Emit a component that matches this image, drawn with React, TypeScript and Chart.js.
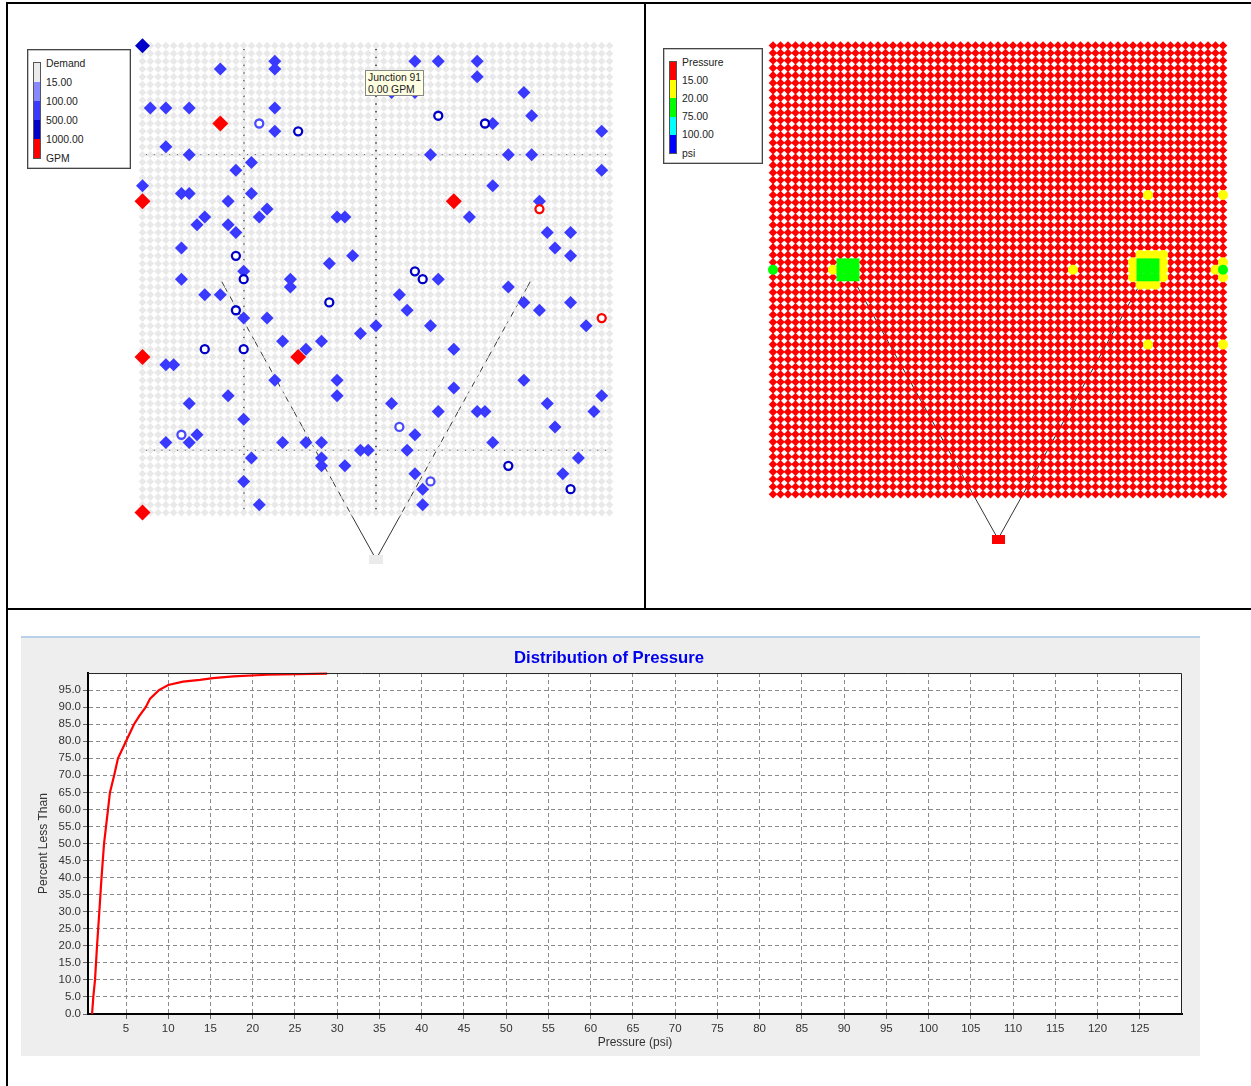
import React, { useEffect, useRef } from "react";
import { Chart, registerables } from "chart.js";

Chart.register(...registerables);

// Lattice of junctions
const gridIndex = [0,1,2,3,4,5,6,7,8,9,10,11,12,13,14,15,16,17,18,19,20,21,22,23,24,25,26,27,28,29,30,31,32,33,34,35,36,37,38,39,40,41,42,43,44,45,46,47,48,49,50,51,52,53,54,55,56,57,58,59,60];

// Demand map: [col,row]
const demandMid: number[][] = [
  [10,3],[17,2],[17,3],[1,8],[3,8],[6,8],[17,8],[17,11],[3,13],[6,14],[14,15],[12,16],[0,18],[5,19],[6,19],[14,19],[11,20],[16,21],[15,22],[8,22],[7,23],[11,23],[12,24],[5,26],[13,29],[5,30],[19,30],[19,31],[24,28],[8,32],[10,32],
  [35,2],[38,2],[43,2],[43,4],[49,6],[32,6],[35,6],[50,9],[45,10],[59,11],[37,14],[47,14],[50,14],[59,16],[45,18],[51,20],[42,22],[25,22],[26,22],[52,24],[55,24],[53,26],[55,27],[27,27],[38,30],[47,31],[33,32],[49,33],[55,33],
  [13,35],[16,35],[18,38],[23,38],[21,39],[3,41],[4,41],[17,43],[11,45],[6,46],[13,48],[7,50],[3,51],[6,51],[18,51],[21,51],[23,51],[23,53],[23,54],[14,53],[13,56],[15,59],
  [34,34],[51,34],[57,36],[28,37],[30,36],[37,36],[40,39],[25,43],[25,45],[40,44],[49,43],[59,45],[32,46],[52,46],[38,47],[43,47],[44,47],[58,47],[53,49],[35,50],[45,51],[28,52],[29,52],[34,52],[26,54],[56,53],[54,55],[35,55],[36,57],[36,59],
];
const demandHigh: number[][] = [[0,0]];
const demandTop: number[][] = [[10,10],[0,20],[40,20],[0,40],[20,40],[0,60]];
const ringsDark: number[][] = [[20,11],[12,27],[13,30],[24,33],[38,9],[44,10],[35,29],[36,30],[12,34],[8,39],[13,39],[47,54],[55,57]];
const ringsLight: number[][] = [[15,10],[5,50],[33,49],[37,56]];
const ringsRed: number[][] = [[51,21],[59,35]];

// Pressure map: [col,row]
const pressureYellow: number[][] = [
  [50,20],[60,20],[50,40],[60,40],[40,30],[8,30],[59,30],[60,29],[60,31],
  [49,28],[50,28],[51,28],[52,28],[48,29],[48,30],[48,31],[52,29],[52,30],[52,31],[49,32],[50,32],[51,32],
];
const pressureGreenBlocks: number[][] = [
  [9,29],[10,29],[11,29],[9,30],[10,30],[11,30],[9,31],[10,31],[11,31],
  [49,29],[50,29],[51,29],[49,30],[50,30],[51,30],[49,31],[50,31],[51,31],
];
const pressureGreenDots: number[][] = [[0,30],[60,30]];

// Pipes and reservoir
const pipeLeft = [[30,66],[10,30]];
const pipeRight = [[30,66],[50,30]];
const reservoir = [[30,66]];
const crossLines = [
  [[0.4,14],[59.6,14]],
  [[0.4,52],[59.6,52]],
  [[13,0.4],[13,59.6]],
  [[30,0.4],[30,59.6]],
];

// Distribution curve
const pressurePsi = [0.98,1.13,1.33,1.57,1.84,2.1,2.4,2.87,3.1,3.6,4.05,5.0,5.95,6.6,7.33,7.85,8.9,10,11.75,13.75,15.3,17.7,21.7,28.8];
const percentLess = [0,5,10,20,30,40,50,60,65,70,75,80,85,87.5,90,92.5,95,96.5,97.5,98,98.5,99,99.5,99.8];
const xTicks = [5,10,15,20,25,30,35,40,45,50,55,60,65,70,75,80,85,90,95,100,105,110,115,120,125];
const yTicks = [0,5,10,15,20,25,30,35,40,45,50,55,60,65,70,75,80,85,90,95];

const demandLegend = ["Demand","15.00","100.00","500.00","1000.00","GPM"];
const demandColors = ["#EBEBEB","#8888FF","#3A3AFF","#0000C8","#FF0000"];
const pressureLegend = ["Pressure","15.00","20.00","75.00","100.00","psi"];
const pressureColors = ["#FF0000","#FFFF00","#00FF00","#00FFFF","#0000FF"];

const FONT = '"Liberation Sans", Arial, sans-serif';

const pts = (a: number[][]) => a.map(([x, y]) => ({ x, y }));
const lattice = () => {
  const out: number[][] = [];
  for (const r of gridIndex) for (const c of gridIndex) out.push([c, r]);
  return out;
};
const tank = (color: string, w: number, h: number) => {
  const c = document.createElement("canvas");
  c.width = w;
  c.height = h;
  const g = c.getContext("2d")!;
  g.fillStyle = color;
  g.fillRect(0, 0, w, h);
  return c;
};
const nodes = (data: number[][], color: string, radius: number, style = "rectRot") => ({
  data: pts(data),
  pointStyle: style,
  pointRadius: radius,
  pointBackgroundColor: color,
  pointBorderWidth: 0,
  clip: false,
});
const rings = (data: number[][], color: string) => ({
  data: pts(data),
  pointStyle: "circle",
  pointRadius: 4,
  pointBackgroundColor: "#FFFFFF",
  pointBorderColor: color,
  pointBorderWidth: 2.3,
  clip: false,
});
const pipe = (data: number[][], width = 1, color = "#333333") => ({
  data: pts(data),
  showLine: true,
  pointRadius: 0,
  borderColor: color,
  borderWidth: width,
  clip: false,
});

const mapOptions = (padding: any) => ({
  responsive: false,
  animation: false,
  events: [],
  layout: { padding },
  plugins: { legend: { display: false }, tooltip: { enabled: false }, title: { display: false } },
  scales: {
    x: { type: "linear", display: false, min: 0, max: 60 },
    y: { type: "linear", display: false, min: 0, max: 68, reverse: true },
  },
});

const plotFrame = {
  id: "plotFrame",
  beforeDraw(c: any) {
    const { ctx, chartArea: a } = c;
    ctx.save();
    ctx.fillStyle = "#FFFFFF";
    ctx.fillRect(a.left, a.top, a.width, a.height);
    ctx.restore();
  },
  afterDatasetsDraw(c: any) {
    const { ctx, chartArea: a } = c;
    ctx.save();
    ctx.strokeStyle = "#222222";
    ctx.lineWidth = 1;
    ctx.beginPath();
    ctx.moveTo(a.left, a.top + 0.5);
    ctx.lineTo(a.right - 0.5, a.top + 0.5);
    ctx.lineTo(a.right - 0.5, a.bottom);
    ctx.stroke();
    ctx.restore();
  },
};

const Legend = ({ left, top, width, height, labels, colors, textX, barX, barW, barTop, step, labelTop }: any) => (
  <div style={{ position: "absolute", left, top, width, height, boxSizing: "border-box", border: "1px solid #444", background: "#fff", boxShadow: "inset 0 0 0 0.5px #888" }}>
    <div style={{ position: "absolute", left: barX, top: barTop, width: barW, border: "1px solid #555", boxSizing: "content-box" }}>
      {colors.map((c: string) => <div key={c} style={{ height: step, background: c }} />)}
    </div>
    {labels.map((t: string, i: number) => (
      <div key={t} style={{ position: "absolute", left: textX, top: labelTop + i * step - 6, height: 12, lineHeight: "12px", font: `10.4px ${FONT}`, color: "#222", whiteSpace: "nowrap" }}>{t}</div>
    ))}
  </div>
);

const Rule = ({ l, t, w, h }: any) => <div style={{ position: "absolute", left: l, top: t, width: w, height: h, background: "#000" }} />;

export default function App() {
  const a = useRef<HTMLCanvasElement>(null);
  const b = useRef<HTMLCanvasElement>(null);
  const c = useRef<HTMLCanvasElement>(null);

  useEffect(() => {
    const demand = new Chart(a.current!, {
      type: "scatter",
      data: {
        datasets: [
          rings(ringsRed, "#FF0000"),
          rings(ringsLight, "#4A4AFF"),
          rings(ringsDark, "#0000C8"),
          nodes(demandTop, "#FF0000", 8),
          nodes(demandHigh, "#0000C8", 7.5),
          nodes(demandMid, "#3A3AFF", 6.5),
          { ...nodes(reservoir, "#EBEBEB", 5), pointStyle: tank("#EBEBEB", 14, 9) },
          nodes(lattice(), "#E9E9E9", 3.9),
          pipe(pipeLeft),
          pipe(pipeRight),
          ...crossLines.map((l) => pipe(l, 1, "#000000")),
        ] as any,
      },
      options: mapOptions({ left: 133.5, right: 33.5, top: 41.7, bottom: 32.2 }) as any,
    });

    const pressure = new Chart(b.current!, {
      type: "scatter",
      data: {
        datasets: [
          nodes(pressureGreenDots, "#00FF00", 5, "circle"),
          nodes(pressureGreenBlocks, "#00FF00", 5.6, "rect"),
          nodes(pressureYellow, "#FFFF00", 5, "circle"),
          { ...nodes(reservoir, "#FF0000", 5), pointStyle: tank("#FF0000", 13, 9) },
          nodes(lattice(), "#FF0000", 4.3),
          pipe(pipeLeft),
          pipe(pipeRight),
          ...crossLines.map((l) => pipe(l)),
        ] as any,
      },
      options: mapOptions({ left: 127, right: 27, top: 41.5, bottom: 54 }) as any,
    });

    const dist = new Chart(c.current!, {
      type: "line",
      data: {
        labels: pressurePsi,
        datasets: [
          {
            data: pressurePsi.map((x, i) => ({ x, y: percentLess[i] })),
            borderColor: "#FF0000",
            borderWidth: 2.2,
            pointRadius: 0,
            tension: 0,
            clip: false,
          },
        ],
      },
      options: {
        responsive: false,
        animation: false,
        events: [],
        layout: { padding: { left: 15, right: 18, top: 0, bottom: 6 } },
        plugins: {
          legend: { display: false },
          tooltip: { enabled: false },
          title: {
            display: true,
            text: "Distribution of Pressure",
            color: "#0000EE",
            font: { family: FONT, size: 16.7, weight: "bold" },
            padding: { top: 12, bottom: 5 },
          },
        },
        scales: {
          x: {
            type: "linear",
            min: 0.5,
            max: 130,
            afterFit: (s: any) => { s.height = 36; },
            afterBuildTicks: (s: any) => { s.ticks = xTicks.map((value) => ({ value })); },
            border: { display: true, color: "#000", width: 2, dash: [4, 3] },
            grid: { color: "#8A8A8A", tickLength: 5, drawTicks: true, tickColor: "#666" },
            ticks: { autoSkip: false, maxRotation: 0, color: "#333", padding: 3, font: { family: FONT, size: 11.5 }, callback: (v: any) => String(v) },
            title: { display: true, text: "Pressure (psi)", color: "#333", font: { family: FONT, size: 12 }, padding: 0 },
          },
          y: {
            type: "linear",
            min: 0,
            max: 100,
            afterFit: (s: any) => { s.width = 52; },
            afterBuildTicks: (s: any) => { s.ticks = yTicks.map((value) => ({ value })); },
            border: { display: true, color: "#000", width: 2, dash: [4, 3] },
            grid: { color: "#8A8A8A", tickLength: 5, tickColor: "#666" },
            ticks: { autoSkip: false, color: "#333", padding: 2, font: { family: FONT, size: 11.5 }, callback: (v: any) => Number(v).toFixed(1) },
            title: { display: true, text: "Percent Less Than", color: "#333", font: { family: FONT, size: 12 }, padding: 0 },
          },
        },
      } as any,
      plugins: [plotFrame],
    });

    return () => {
      demand.destroy();
      pressure.destroy();
      dist.destroy();
    };
  }, []);

  return (
    <div style={{ position: "absolute", left: 0, top: 0, width: 1251, height: 1086, background: "#fff", overflow: "hidden" }}>
      <canvas ref={a} width={634} height={603} style={{ position: "absolute", left: 9, top: 4 }} />
      <canvas ref={b} width={604} height={604} style={{ position: "absolute", left: 646, top: 4 }} />
      <div style={{ position: "absolute", left: 21, top: 636, width: 1179, height: 420, background: "#EEEEEE", boxSizing: "border-box" }} />
      <canvas ref={c} width={1179} height={420} style={{ position: "absolute", left: 21, top: 636 }} />
      <div style={{ position: "absolute", left: 21, top: 636, width: 1179, height: 2, background: "#B8D0E8" }} />

      <Rule l={6} t={2} w={1245} h={2} />
      <Rule l={6} t={2} w={2} h={1084} />
      <Rule l={644} t={2} w={2} h={606} />
      <Rule l={6} t={608} w={1245} h={2} />

      <Legend left={27} top={49} width={104} height={120} labels={demandLegend} colors={demandColors} textX={18} barX={5} barW={6} barTop={12} step={19} labelTop={13.5} />
      <Legend left={663} top={48} width={100} height={116} labels={pressureLegend} colors={pressureColors} textX={18} barX={5} barW={6} barTop={12} step={18.2} labelTop={13.5} />

      <div style={{ position: "absolute", left: 365, top: 70, width: 59, height: 26, boxSizing: "border-box", border: "1px solid #888", background: "#FFFFE1", font: `10.4px/12px ${FONT}`, color: "#222", paddingLeft: 2, paddingTop: 1, whiteSpace: "nowrap" }}>
        Junction 91<br />0.00 GPM
      </div>
    </div>
  );
}
